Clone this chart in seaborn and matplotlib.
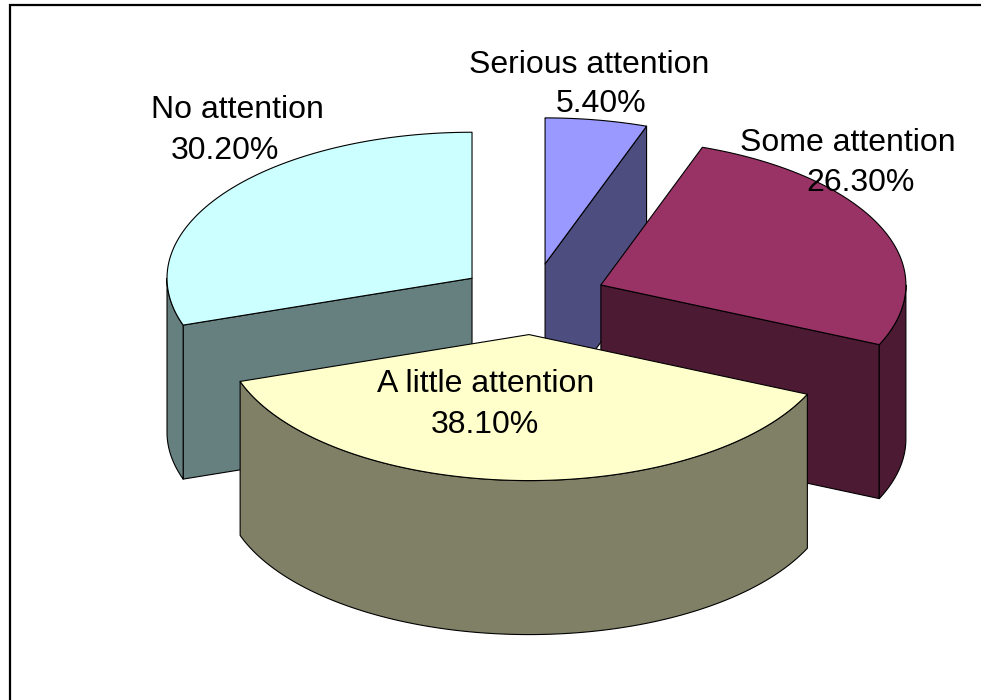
import numpy as np
import matplotlib
matplotlib.use("Agg")
import matplotlib.pyplot as plt
import seaborn as sns

categories = ["Serious attention", "Some attention", "A little attention", "No attention"]
shares = [5.4, 26.3, 38.1, 30.2]
top_colors = ["#9999FF", "#993366", "#FFFFCC", "#CCFFFF"]
side_colors = ["#4D4D80", "#4D1A33", "#808066", "#668080"]
name_xy = [(589, 65), (848, 143), (486, 384), (237, 110)]
value_xy = [(601, 104), (861, 183), (485, 425), (225, 151)]

# Pie geometry in canvas pixels
CX, CY = 532.5, 299.0
RX, RY = 305.0, 146.0
DEPTH = 154.0
EXPLODE = 0.244

sns.set_theme(style="white")
plt.rcParams["font.family"] = ["Liberation Sans", "DejaVu Sans"]

fig = plt.figure(figsize=(9.81, 7.0), dpi=100)
ax = fig.add_axes([0, 0, 1, 1])
ax.set_xlim(0, 981)
ax.set_ylim(700, 0)
ax.axis("off")


def rim(cx, cy, angles):
    return cx + RX * np.sin(angles), cy - RY * np.cos(angles)


def face(xs, ys, color, z):
    ax.fill(xs, ys, facecolor=color, edgecolor="black", linewidth=0.8,
            joinstyle="round", zorder=z)


edges = np.radians(np.concatenate([[0], np.cumsum(shares)]) * 3.6)
# Slices are painted back to front; the front slice is last
paint_order = [3, 0, 1, 2]

for depth_rank, i in enumerate(paint_order):
    start, end = edges[i], edges[i + 1]
    mid = (start + end) / 2
    cx = CX + EXPLODE * RX * np.sin(mid)
    cy = CY - EXPLODE * RY * np.cos(mid)
    z = depth_rank * 10 + 1

    # Cut faces, only those turned toward the viewer
    for angle, normal in ((start, start - np.pi / 2), (end, end + np.pi / 2)):
        if np.cos(normal) < -1e-6:
            ex, ey = rim(cx, cy, angle)
            face([cx, ex, ex, cx], [cy, ey, ey + DEPTH, cy + DEPTH],
                 side_colors[i], z)

    # Outer wall on the front half of the ellipse
    wall_lo, wall_hi = max(start, np.pi / 2), min(end, 3 * np.pi / 2)
    if wall_hi > wall_lo:
        t = np.linspace(wall_lo, wall_hi, 120)
        wx, wy = rim(cx, cy, t)
        face(np.r_[wx, wx[::-1]], np.r_[wy, wy[::-1] + DEPTH],
             side_colors[i], z + 1)

    # Top surface
    t = np.linspace(start, end, 160)
    tx, ty = rim(cx, cy, t)
    face(np.r_[cx, tx], np.r_[cy, ty], top_colors[i], z + 2)

for name, value, nxy, vxy in zip(categories, shares, name_xy, value_xy):
    ax.text(*nxy, name, ha="center", va="center", fontsize=23,
            color="black", zorder=100)
    ax.text(*vxy, f"{value:.2f}%", ha="center", va="center", fontsize=23,
            color="black", zorder=100)

# Chart frame along the top and left
ax.plot([10, 10, 981], [700, 5, 5], color="black", linewidth=1.6, zorder=101,
        solid_joinstyle="miter")

fig.savefig("out.png", dpi=100, facecolor="white")
